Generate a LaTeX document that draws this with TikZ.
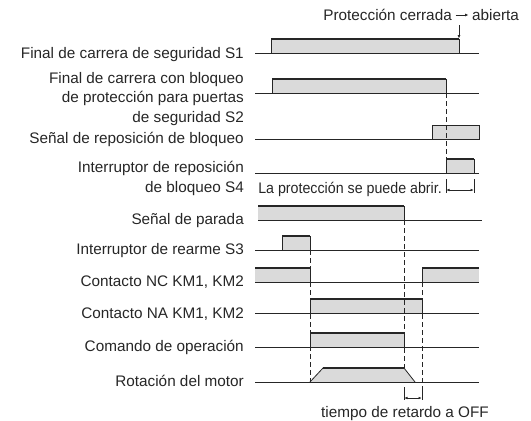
\documentclass[tikz,border=0pt]{standalone}
\usepackage{fontspec}
\setmainfont{Liberation Sans}
\usetikzlibrary{positioning, arrows.meta}
\definecolor{gris}{HTML}{DADADA}
\definecolor{trazo}{HTML}{262626}

\begin{document}
\begin{tikzpicture}[x=1pt,y=-1pt,
    every node/.style={inner sep=0pt,text=trazo,font=\fontsize{15.3}{19.5}\selectfont},
    etiqueta/.style={anchor=base east,align=right},
    linea/.style={draw=trazo,line width=0.9pt},
    alto/.style={draw=trazo,line width=1.7pt},
    pulso/.style={fill=gris,draw=trazo,line width=0.8pt},
    guia/.style={draw=trazo,line width=0.7pt,dash pattern=on 5pt off 3pt},
    cota/.style={draw=trazo,line width=0.7pt,{Latex[length=3.5pt,width=2.6pt]}-{Latex[length=3.5pt,width=2.6pt]}}]
    \useasboundingbox (0,0) rectangle (531,421);

    % Nombres de las senales
    \node[etiqueta] (s1) at (244,58) {Final de carrera de seguridad S1};
    \node[etiqueta] (s2) at (244,122) {Final de carrera con bloqueo\\de protección para puertas\\de seguridad S2};
    \node[etiqueta] (rep) at (244,143.5) {Señal de reposición de bloqueo};
    \node[etiqueta] (s4) at (244,192) {Interruptor de reposición\\de bloqueo S4};
    \node[etiqueta] (par) at (244,224) {Señal de parada};
    \node[etiqueta] (s3) at (244,254) {Interruptor de rearme S3};
    \node[etiqueta] (nc) at (244,286) {Contacto NC KM1, KM2};
    \node[etiqueta] (na) at (244,318) {Contacto NA KM1, KM2};
    \node[etiqueta] (com) at (244,351) {Comando de operación};
    \node[etiqueta] (mot) at (244,386) {Rotación del motor};

    \node[anchor=base east] (cerrada) at (452,20) {Protección cerrada};
    \node[anchor=base west] (abierta) at (472,20) {abierta};
    \node[anchor=base east] (abrir) at (442,193) {\scalebox{0.93}[1]{La protección se puede abrir.}};
    \node[anchor=base] (retardo) at (405,417) {tiempo de retardo a OFF};

    % Pulsos
    \filldraw[pulso] (271,53) -- (271,39) -- (459,39) -- (459,53);
    \filldraw[pulso] (272,93) -- (272,79) -- (446,79) -- (446,93);
    \filldraw[pulso] (432,139.5) -- (432,125.5) -- (479,125.5) -- (479,139.5);
    \filldraw[pulso] (446,173) -- (446,159) -- (474,159) -- (474,173);
    \fill[gris] (258,220) rectangle (404,206);
    \draw[pulso] (404,206) -- (404,220);
    \filldraw[pulso] (282,250) -- (282,236) -- (310,236) -- (310,250);
    \fill[gris] (255,282) rectangle (310,268);
    \draw[pulso] (310,268) -- (310,282);
    \fill[gris] (422,282) rectangle (479,268);
    \draw[pulso] (422,282) -- (422,268);
    \filldraw[pulso] (310,313) -- (310,299) -- (422,299) -- (422,313);
    \filldraw[pulso] (310,347) -- (310,333) -- (404,333) -- (404,347);
    \filldraw[pulso] (310,382) -- (323,368) -- (404,368) -- (415,382);

    % Lineas de base
    \foreach \y in {53,93,139.5,173,250,282,313,347,382}
        \draw[linea] (255,\y) -- (479,\y);
    \draw[linea] (258,220) -- (482,220);

    % Nivel alto
    \draw[alto] (271,39) -- (459,39);
    \draw[alto] (272,79) -- (446,79);
    \draw[alto] (432,125.5) -- (479,125.5);
    \draw[alto] (446,159) -- (474,159);
    \draw[alto] (258,206) -- (404,206);
    \draw[alto] (282,236) -- (310,236);
    \draw[alto] (255,268) -- (310,268);
    \draw[alto] (422,268) -- (479,268);
    \draw[alto] (310,299) -- (422,299);
    \draw[alto] (310,333) -- (404,333);
    \draw[alto] (323,368) -- (404,368);

    % Lineas guia
    \draw[guia] (446,93) -- (446,159);
    \draw[guia] (310,250) -- (310,382);
    \draw[guia] (404,220) -- (404,368);
    \draw[guia] (422,282) -- (422,387);

    % Cotas
    \coordinate (a1) at (446,190);
    \coordinate (a2) at (474,190);
    \draw[linea,line width=0.7pt] (446,179) -- (446,193) (474,179) -- (474,193);
    \draw[cota] (a1) -- (a2);
    \coordinate (b1) at (404,398);
    \coordinate (b2) at (422,398);
    \draw[linea,line width=0.7pt] (404,387) -- (404,400) (422,387) -- (422,400);
    \draw[cota] (b1) -- (b2);

    % Protección cerrada -> abierta
    \draw[draw=trazo,line width=0.7pt,-{Latex[length=3.5pt,width=3pt]}] ([xshift=3.5pt,yshift=5pt]cerrada.base east) -- ([xshift=-3.5pt,yshift=5pt]abierta.base west);
    \coordinate (marca) at (459,25);
    \coordinate (s1baja) at (459,38.5);
    \draw[draw=trazo,line width=0.7pt,-{Latex[length=3.5pt,width=3pt]}] (marca) -- (s1baja);
\end{tikzpicture}
\end{document}
